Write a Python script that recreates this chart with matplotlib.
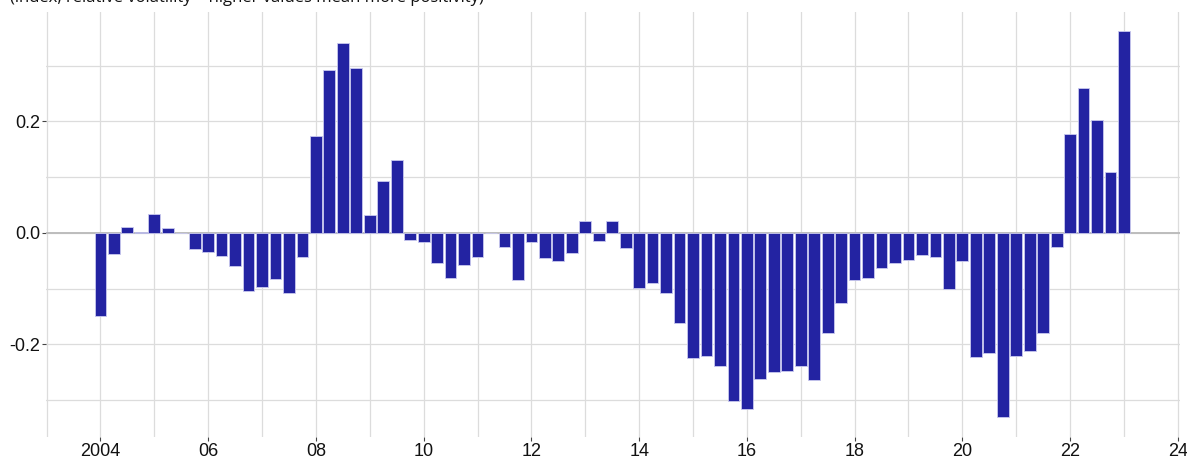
import matplotlib

matplotlib.use("Agg")
import matplotlib.pyplot as plt
import numpy as np
from matplotlib.ticker import FixedLocator, FuncFormatter

# quarterly values, 2004Q1 .. 2023Q1
start_year = 2004
values = [
    -0.149, -0.038, 0.011, 0.001,   # 2004
    0.033, 0.009, -0.001, -0.029,   # 2005
    -0.034, -0.041, -0.059, -0.104,  # 2006
    -0.097, -0.082, -0.107, -0.043,  # 2007
    0.174, 0.292, 0.340, 0.296,     # 2008
    0.032, 0.093, 0.131, -0.013,    # 2009
    -0.017, -0.054, -0.081, -0.057,  # 2010
    -0.044, -0.001, -0.026, -0.084,  # 2011
    -0.016, -0.045, -0.051, -0.036,  # 2012
    0.022, -0.015, 0.021, -0.028,   # 2013
    -0.099, -0.089, -0.108, -0.162,  # 2014
    -0.224, -0.221, -0.239, -0.302,  # 2015
    -0.316, -0.262, -0.250, -0.248,  # 2016
    -0.238, -0.263, -0.179, -0.126,  # 2017
    -0.085, -0.081, -0.063, -0.054,  # 2018
    -0.049, -0.039, -0.043, -0.101,  # 2019
    -0.051, -0.222, -0.216, -0.331,  # 2020
    -0.221, -0.211, -0.180, -0.026,  # 2021
    0.177, 0.260, 0.202, 0.110,     # 2022
    0.362,                          # 2023
]
x_major = [2004, 2006, 2008, 2010, 2012, 2014, 2016, 2018, 2020, 2022, 2024]
x_labels = ["2004", "06", "08", "10", "12", "14", "16", "18", "20", "22", "24"]
y_major = [-0.2, 0.0, 0.2]
y_minor = [-0.3, -0.1, 0.1, 0.3]
subtitle = "(index, relative volatility \u2013 higher values mean more positivity)"

W, H = 1187, 459
fig = plt.figure(figsize=(W / 100, H / 100), dpi=100)
ax = fig.add_axes([46 / W, 1 - 437 / H, (1180 - 46) / W, (437 - 12) / H])

quarters = start_year + np.arange(len(values)) / 4
ax.bar(quarters, values, width=0.218, color="#2323a2",
       edgecolor="#c9c9ee", linewidth=0.6, zorder=3)

ax.set_xlim(2002.99, 2024.04)
ax.set_ylim(-0.366, 0.396)

ax.xaxis.set_major_locator(FixedLocator(x_major))
ax.xaxis.set_minor_locator(FixedLocator([y + 1 for y in x_major[:-1]] + [2003]))
ax.set_xticklabels(x_labels)
ax.yaxis.set_major_locator(FixedLocator(y_major))
ax.yaxis.set_minor_locator(FixedLocator(y_minor))
ax.yaxis.set_major_formatter(FuncFormatter(lambda v, p: f"{v:.1f}".replace("-0.0", "0.0")))

ax.grid(True, which="both", color="#dcdcdc", linewidth=0.9, zorder=0)
ax.axhline(0, color="#bdbdbd", linewidth=1.4, zorder=2)

for s in ax.spines.values():
    s.set_visible(False)
ax.tick_params(which="major", length=3, width=0.8, color="#444444",
               labelsize=13, pad=1, labelcolor="#111111")
ax.tick_params(which="minor", length=0)
for lab in ax.get_xticklabels() + ax.get_yticklabels():
    lab.set_family(["Liberation Sans Narrow", "Liberation Sans", "DejaVu Sans"])

# the subtitle is cut by the top edge in the source picture
fig.text(10 / W, 1 - 2 / H, subtitle, fontsize=12, family=["Open Sans", "DejaVu Sans"],
         color="#111111", va="baseline", ha="left")

fig.savefig("out.png", dpi=100)
